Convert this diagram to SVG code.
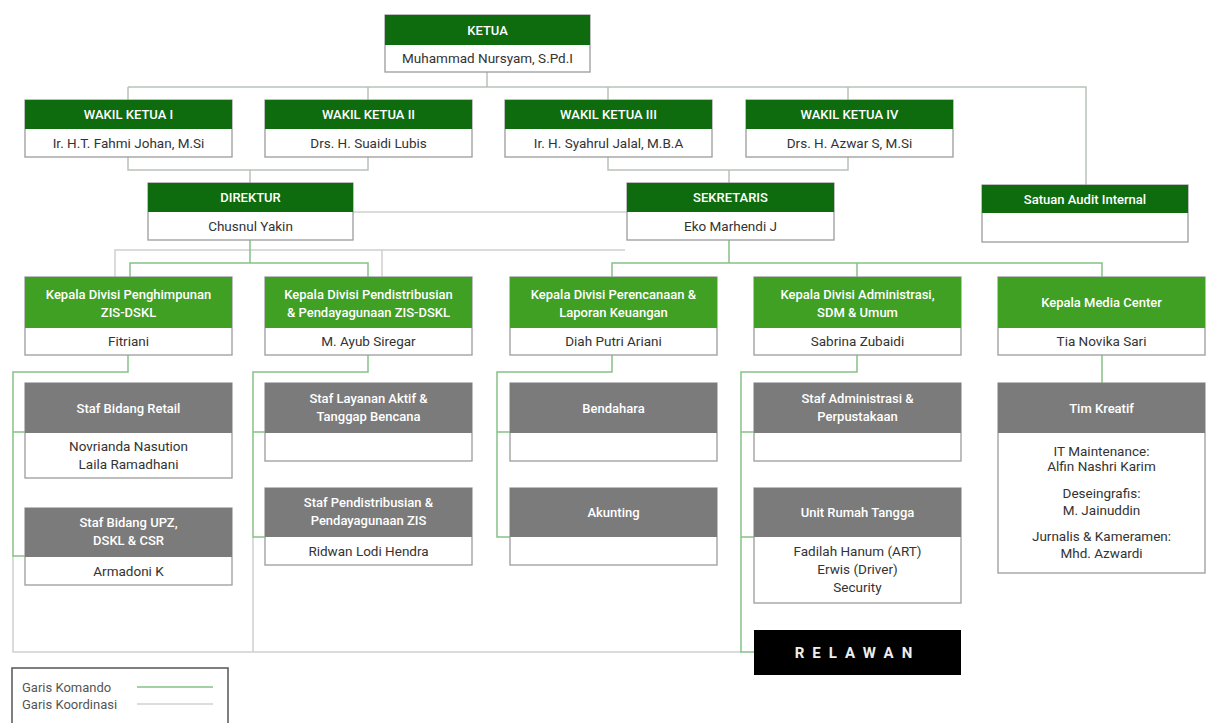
<svg xmlns="http://www.w3.org/2000/svg" width="1211" height="723" viewBox="0 0 1211 723">
<style>
.bg{fill:#fff}
.bd{fill:#fff;stroke:#9c9c9c;stroke-width:1.3}
.hd{fill:#0e6b0e}
.hl{fill:#40a024}
.hg{fill:#7b7b7b}
.th{font-family:Roboto,"Liberation Sans",sans-serif;font-size:13px;fill:#fff;text-anchor:middle;font-weight:500}
.tn{font-family:Roboto,"Liberation Sans",sans-serif;font-size:13.5px;fill:#333;text-anchor:middle}
.s{stroke:#b9c1b9;fill:none;stroke-width:1.5}
.k{stroke:#86c286;fill:none;stroke-width:1.5}
.c{stroke:#d0d0d0;fill:none;stroke-width:1.5}
.lg{font-family:Roboto,"Liberation Sans",sans-serif;font-size:13px;fill:#555}
</style>
<rect class="bg" x="0" y="0" width="1211" height="723"/>

<g id="connectors">
  <path class="s" d="M487,72V87M128,87H1086V185M128,87V100M368,87V100M608,87V100M848,87V100"/>
  <path class="s" d="M128,157V170H368V157M250,170V183"/>
  <path class="s" d="M608,157V170H848V157M729,170V183"/>
  <path class="c" d="M353,212H627"/>
  <path class="c" d="M115,277V250H625M382,250V277"/>
  <path class="k" d="M250,240V263M130,277V263H368V277"/>
  <path class="k" d="M729,240V263M612,277V263H1102V277M857,263V277"/>
  <path class="c" d="M13,556V652H741M253,537V652"/>
  <path class="k" d="M128,355V372H13V556H25M13,432H25"/>
  <path class="k" d="M368,355V372H253V537H265M253,432H265"/>
  <path class="k" d="M612,355V372H497V537H510M497,432H510"/>
  <path class="k" d="M857,355V372H741V652H754M741,432H754M741,537H754"/>
  <path class="k" d="M1102,355V383"/>
</g>

<g id="ketua">
  <rect class="bd" x="385" y="15" width="205" height="57"/>
  <rect class="hd" x="385" y="15" width="205" height="30"/>
  <text class="th" x="487.5" y="35">KETUA</text>
  <text class="tn" x="487.5" y="63">Muhammad Nursyam, S.Pd.I</text>
</g>

<g id="wakil1">
  <rect class="bd" x="25" y="100" width="207" height="57"/>
  <rect class="hd" x="25" y="100" width="207" height="29"/>
  <text class="th" x="128.5" y="119">WAKIL KETUA I</text>
  <text class="tn" x="128.5" y="148">Ir. H.T. Fahmi Johan, M.Si</text>
</g>
<g id="wakil2">
  <rect class="bd" x="265" y="100" width="207" height="57"/>
  <rect class="hd" x="265" y="100" width="207" height="29"/>
  <text class="th" x="368.5" y="119">WAKIL KETUA II</text>
  <text class="tn" x="368.5" y="148">Drs. H. Suaidi Lubis</text>
</g>
<g id="wakil3">
  <rect class="bd" x="505" y="100" width="207" height="57"/>
  <rect class="hd" x="505" y="100" width="207" height="29"/>
  <text class="th" x="608.5" y="119">WAKIL KETUA III</text>
  <text class="tn" x="608.5" y="148">Ir. H. Syahrul Jalal, M.B.A</text>
</g>
<g id="wakil4">
  <rect class="bd" x="746" y="100" width="207" height="57"/>
  <rect class="hd" x="746" y="100" width="207" height="29"/>
  <text class="th" x="849.5" y="119">WAKIL KETUA IV</text>
  <text class="tn" x="849.5" y="148">Drs. H. Azwar S, M.Si</text>
</g>

<g id="direktur">
  <rect class="bd" x="148" y="183" width="205" height="57"/>
  <rect class="hd" x="148" y="183" width="205" height="29"/>
  <text class="th" x="250.5" y="202">DIREKTUR</text>
  <text class="tn" x="250.5" y="231">Chusnul Yakin</text>
</g>
<g id="sekretaris">
  <rect class="bd" x="627" y="183" width="207" height="57"/>
  <rect class="hd" x="627" y="183" width="207" height="29"/>
  <text class="th" x="730.5" y="202">SEKRETARIS</text>
  <text class="tn" x="730.5" y="231">Eko Marhendi J</text>
</g>
<g id="audit">
  <rect class="bd" x="982" y="185" width="206" height="57"/>
  <rect class="hd" x="982" y="185" width="206" height="28"/>
  <text class="th" x="1085" y="204">Satuan Audit Internal</text>
</g>

<g id="div-penghimpunan">
  <rect class="bd" x="25" y="277" width="207" height="78"/>
  <rect class="hl" x="25" y="277" width="207" height="51"/>
  <text class="th" x="128.5" y="299">Kepala Divisi Penghimpunan</text>
  <text class="th" x="128.5" y="317">ZIS-DSKL</text>
  <text class="tn" x="128.5" y="346">Fitriani</text>
</g>
<g id="div-pendistribusian">
  <rect class="bd" x="265" y="277" width="207" height="78"/>
  <rect class="hl" x="265" y="277" width="207" height="51"/>
  <text class="th" x="368.5" y="299">Kepala Divisi Pendistribusian</text>
  <text class="th" x="368.5" y="317">&amp; Pendayagunaan ZIS-DSKL</text>
  <text class="tn" x="368.5" y="346">M. Ayub Siregar</text>
</g>
<g id="div-perencanaan">
  <rect class="bd" x="510" y="277" width="207" height="78"/>
  <rect class="hl" x="510" y="277" width="207" height="51"/>
  <text class="th" x="613.5" y="299">Kepala Divisi Perencanaan &amp;</text>
  <text class="th" x="613.5" y="317">Laporan Keuangan</text>
  <text class="tn" x="613.5" y="346">Diah Putri Ariani</text>
</g>
<g id="div-administrasi">
  <rect class="bd" x="754" y="277" width="207" height="78"/>
  <rect class="hl" x="754" y="277" width="207" height="51"/>
  <text class="th" x="857.5" y="299">Kepala Divisi Administrasi,</text>
  <text class="th" x="857.5" y="317">SDM &amp; Umum</text>
  <text class="tn" x="857.5" y="346">Sabrina Zubaidi</text>
</g>
<g id="media-center">
  <rect class="bd" x="998" y="277" width="207" height="78"/>
  <rect class="hl" x="998" y="277" width="207" height="51"/>
  <text class="th" x="1101.5" y="307">Kepala Media Center</text>
  <text class="tn" x="1101.5" y="346">Tia Novika Sari</text>
</g>

<g id="staf-retail">
  <rect class="bd" x="25" y="383" width="207" height="95"/>
  <rect class="hg" x="25" y="383" width="207" height="50"/>
  <text class="th" x="128.5" y="413">Staf Bidang Retail</text>
  <text class="tn" x="128.5" y="451">Novrianda Nasution</text>
  <text class="tn" x="128.5" y="469">Laila Ramadhani</text>
</g>
<g id="staf-upz">
  <rect class="bd" x="25" y="508" width="207" height="77"/>
  <rect class="hg" x="25" y="508" width="207" height="49"/>
  <text class="th" x="128.5" y="527">Staf Bidang UPZ,</text>
  <text class="th" x="128.5" y="545">DSKL &amp; CSR</text>
  <text class="tn" x="128.5" y="576">Armadoni K</text>
</g>
<g id="staf-layanan">
  <rect class="bd" x="265" y="383" width="207" height="78"/>
  <rect class="hg" x="265" y="383" width="207" height="50"/>
  <text class="th" x="368.5" y="403">Staf Layanan Aktif &amp;</text>
  <text class="th" x="368.5" y="421">Tanggap Bencana</text>
</g>
<g id="staf-pendistribusian">
  <rect class="bd" x="265" y="488" width="207" height="77"/>
  <rect class="hg" x="265" y="488" width="207" height="49"/>
  <text class="th" x="368.5" y="507">Staf Pendistribusian &amp;</text>
  <text class="th" x="368.5" y="525">Pendayagunaan ZIS</text>
  <text class="tn" x="368.5" y="556">Ridwan Lodi Hendra</text>
</g>
<g id="bendahara">
  <rect class="bd" x="510" y="383" width="207" height="78"/>
  <rect class="hg" x="510" y="383" width="207" height="50"/>
  <text class="th" x="613.5" y="413">Bendahara</text>
</g>
<g id="akunting">
  <rect class="bd" x="510" y="488" width="207" height="77"/>
  <rect class="hg" x="510" y="488" width="207" height="49"/>
  <text class="th" x="613.5" y="517">Akunting</text>
</g>
<g id="staf-administrasi">
  <rect class="bd" x="754" y="383" width="207" height="78"/>
  <rect class="hg" x="754" y="383" width="207" height="50"/>
  <text class="th" x="857.5" y="403">Staf Administrasi &amp;</text>
  <text class="th" x="857.5" y="421">Perpustakaan</text>
</g>
<g id="rumah-tangga">
  <rect class="bd" x="754" y="488" width="207" height="115"/>
  <rect class="hg" x="754" y="488" width="207" height="49"/>
  <text class="th" x="857.5" y="517">Unit Rumah Tangga</text>
  <text class="tn" x="857.5" y="556">Fadilah Hanum (ART)</text>
  <text class="tn" x="857.5" y="574">Erwis (Driver)</text>
  <text class="tn" x="857.5" y="592">Security</text>
</g>
<g id="relawan">
  <rect x="754" y="630" width="207" height="45" fill="#000"/>
  <text x="857.5" y="658" font-family="Roboto,'Liberation Sans',sans-serif" font-size="15" font-weight="bold" fill="#eee" text-anchor="middle" letter-spacing="8">RELAWAN</text>
</g>
<g id="tim-kreatif">
  <rect class="bd" x="998" y="383" width="207" height="190"/>
  <rect class="hg" x="998" y="383" width="207" height="50"/>
  <text class="th" x="1101.5" y="413">Tim Kreatif</text>
  <text class="tn" x="1101.5" y="456">IT Maintenance:</text>
  <text class="tn" x="1101.5" y="471">Alfin Nashri Karim</text>
  <text class="tn" x="1101.5" y="498">Deseingrafis:</text>
  <text class="tn" x="1101.5" y="515">M. Jainuddin</text>
  <text class="tn" x="1101.5" y="541">Jurnalis &amp; Kameramen:</text>
  <text class="tn" x="1101.5" y="558">Mhd. Azwardi</text>
</g>

<g id="legend">
  <rect x="12" y="668" width="216" height="60" fill="#fff" stroke="#555" stroke-width="1.5"/>
  <text class="lg" x="22" y="692">Garis Komando</text>
  <text class="lg" x="22" y="709">Garis Koordinasi</text>
  <path class="k" d="M137,687H213"/>
  <path class="c" d="M137,704H213"/>
</g>
</svg>
